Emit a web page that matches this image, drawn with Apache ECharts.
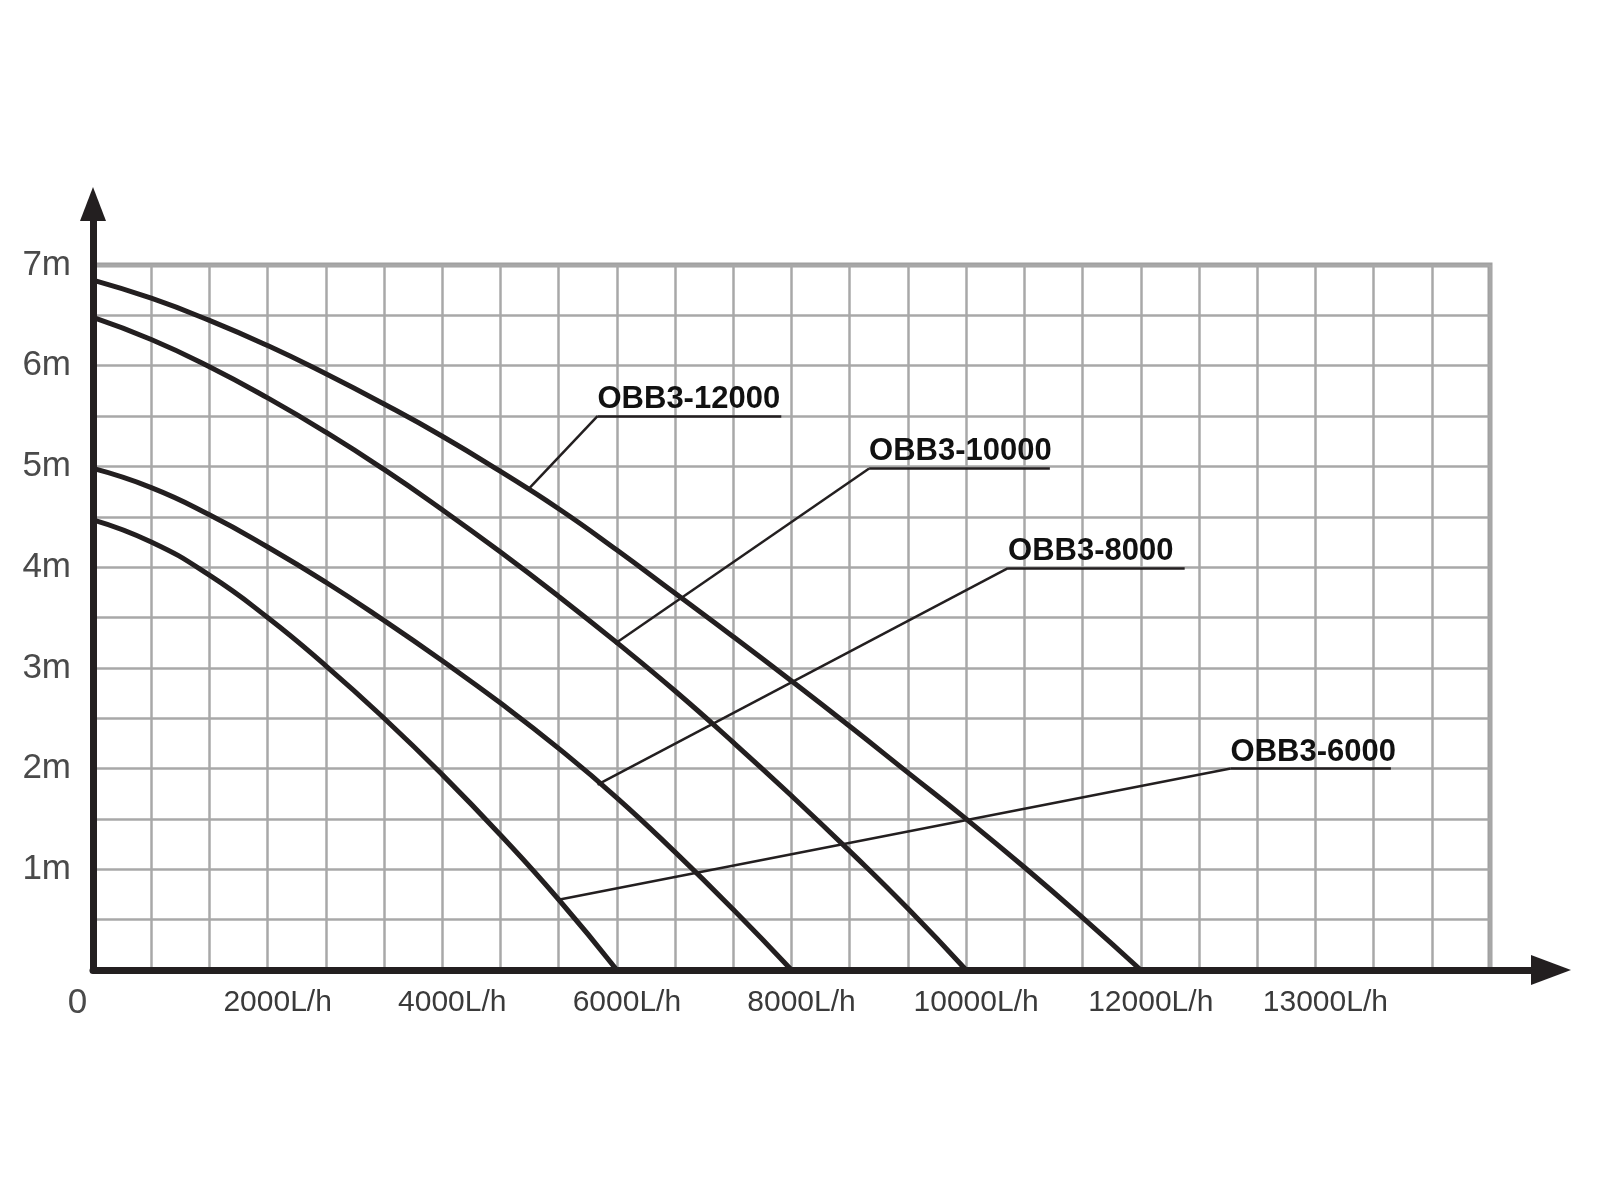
<!DOCTYPE html>
<html>
<head>
<meta charset="utf-8">
<title>OBB3 pump curves</title>
<script src="https://cdn.jsdelivr.net/npm/echarts@6/dist/echarts.min.js"></script>
<style>
  html, body { margin: 0; padding: 0; background: #fff; }
  #chart { width: 1600px; height: 1201px; }
</style>
</head>
<body>
<div id="chart"></div>
<script>
// flow (L/h) at each grid column, head (m)
const flow = [0, 667, 1333, 2000, 2667, 3333, 4000, 4667, 5333, 6000, 6667, 7333, 8000, 8667, 9333, 10000, 10667, 11333, 12000];
const head6000  = [4.47, 4.25, 3.92, 3.50, 3.02, 2.50, 1.94, 1.34, 0.70, 0];
const head8000  = [4.98, 4.79, 4.52, 4.20, 3.85, 3.47, 3.07, 2.65, 2.20, 1.71, 1.17, 0.60, 0];
const head10000 = [6.48, 6.26, 5.99, 5.68, 5.34, 4.97, 4.57, 4.15, 3.71, 3.25, 2.77, 2.26, 1.73, 1.18, 0.61, 0];
const head12000 = [6.85, 6.67, 6.45, 6.20, 5.92, 5.62, 5.30, 4.95, 4.58, 4.17, 3.74, 3.31, 2.87, 2.42, 1.96, 1.50, 1.02, 0.52, 0];

const models = ['OBB3-6000', 'OBB3-8000', 'OBB3-10000', 'OBB3-12000'];
const heads = [head6000, head8000, head10000, head12000];
// callouts: point on the curve, elbow, end of underline  [L/h, m]
const calloutStart = [[5345, 0.70], [5778, 1.84], [5977, 3.24], [4982, 4.77]];
const calloutElbow = [[13029, 2.00], [10480, 3.99], [8889, 4.98], [5778, 5.50]];
const calloutEnd   = [[14865, 2.00], [12503, 3.99], [10959, 4.98], [7883, 5.50]];

const xTickValues = [2000, 4000, 6000, 8000, 10000, 12000, 14000];
const xTickLabels = ['2000L/h', '4000L/h', '6000L/h', '8000L/h', '10000L/h', '12000L/h', '13000L/h'];
const yTickValues = [1, 2, 3, 4, 5, 6, 7];
const yTickLabels = ['1m', '2m', '3m', '4m', '5m', '6m', '7m'];

const ink = '#231f20';
const gridGray = '#a8a8a8';
const sans = '"Liberation Sans", Arial, sans-serif';

const chart = echarts.init(document.getElementById('chart'));

let series = models.map((name, k) => ({
    name: name,
    type: 'line',
    xAxisIndex: 0,
    yAxisIndex: 0,
    smooth: 0.5,
    symbol: 'none',
    silent: true,
    z: 3,
    lineStyle: { color: ink, width: 5 },
    data: heads[k].map((h, i) => [flow[i], h]),
    markLine: {
        silent: true,
        symbol: 'none',
        animation: false,
        lineStyle: { color: ink, width: 2.5, type: 'solid' },
        label: { show: false },
        data: [
            [{ coord: calloutStart[k] }, { coord: calloutElbow[k] }],
            [{
                coord: calloutElbow[k],
                label: {
                    show: true,
                    position: 'insideStartTop',
                    distance: [0, 1],
                    formatter: name,
                    color: '#111',
                    fontFamily: sans,
                    fontWeight: 'bold',
                    fontSize: 31
                }
            }, { coord: calloutEnd[k] }]
        ]
    }
}));

const option = {
    backgroundColor: '#fff',
    animation: false,
    grid: [
        // plot area with the squared paper
        { left: 93, right: 110, top: 265, bottom: 231, show: true, borderColor: '#a0a0a0', borderWidth: 5, backgroundColor: 'transparent' },
        // only carries the two arrowed axes (arrow heads are centred on the axis ends)
        { left: 93, right: 49, top: 204, bottom: 231 }
    ],
    xAxis: [
        {
            gridIndex: 0, type: 'value', min: 0, max: 16000, interval: 2000,
            axisLine: { show: false }, axisTick: { show: false }, splitLine: { show: false },
            axisLabel: {
                show: true, margin: 16, showMinLabel: true, showMaxLabel: false,
                formatter: function (v) {
                    if (v === 0) return '{z|0}';
                    let i = xTickValues.indexOf(v);
                    return i < 0 ? '' : '{a|' + xTickLabels[i] + '}';
                },
                rich: {
                    a: { fontFamily: sans, fontSize: 30, color: '#3a3a3a', padding: [2, 0, 0, 20] },
                    z: { fontFamily: sans, fontSize: 35, color: '#4a4a4a', padding: [0, 31, 0, 0] }
                }
            }
        },
        {
            // minor columns: 24 of them, 2000/3 L/h each
            gridIndex: 0, type: 'value', min: 0, max: 24, interval: 1,
            axisLine: { show: false }, axisTick: { show: false }, axisLabel: { show: false },
            splitLine: { show: true, lineStyle: { color: gridGray, width: 2.5 } }
        },
        {
            gridIndex: 1, type: 'value', min: 0, max: 1, z: 10,
            axisLine: { show: true, onZero: false, symbol: ['none', 'triangle'], symbolSize: [30, 40], lineStyle: { color: ink, width: 7 } },
            axisTick: { show: false }, axisLabel: { show: false }, splitLine: { show: false }
        }
    ],
    yAxis: [
        {
            gridIndex: 0, type: 'value', min: 0, max: 7, interval: 0.5,
            axisLine: { show: false }, axisTick: { show: false },
            splitLine: { show: true, lineStyle: { color: gridGray, width: 2.5 } },
            axisLabel: {
                show: true, margin: 22, showMaxLabel: true, showMinLabel: false,
                fontFamily: sans, fontSize: 35, color: '#4a4a4a',
                formatter: function (v) {
                    let i = yTickValues.indexOf(v);
                    return i < 0 ? '' : yTickLabels[i];
                }
            }
        },
        {
            gridIndex: 1, type: 'value', min: 0, max: 1, z: 10,
            axisLine: { show: true, onZero: false, symbol: ['none', 'triangle'], symbolSize: [26, 34], lineStyle: { color: ink, width: 7 } },
            axisTick: { show: false }, axisLabel: { show: false }, splitLine: { show: false }
        }
    ],
    series: series
};

chart.setOption(option);
</script>
</body>
</html>
